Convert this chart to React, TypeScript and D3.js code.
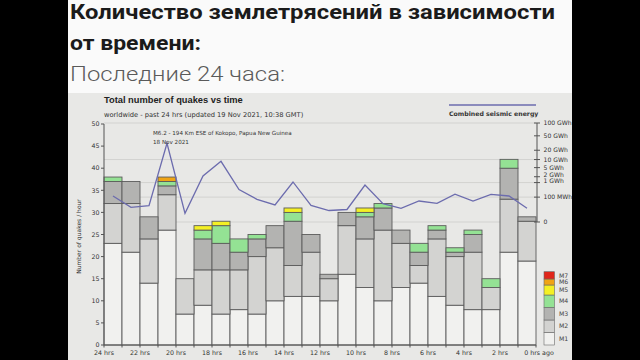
import React from "react";
import * as d3 from "d3";

// quakes per hour, stacked by magnitude class (oldest hour first: 24 hrs -> 0 hrs ago)
const m1 = [23, 21, 14, 26, 7, 9, 7, 8, 7, 10, 11, 11, 10, 16, 13, 10, 13, 14, 11, 9, 8, 8, 21, 19];
const m2 = [9, 11, 10, 8, 8, 8, 10, 9, 13, 12, 7, 10, 5, 11, 11, 16, 10, 4, 13, 11, 13, 5, 12, 9];
const m3 = [5, 5, 5, 2, 0, 7, 6, 4, 4, 5, 10, 4, 1, 3, 5, 5, 3, 3, 2, 1, 4, 0, 7, 1];
const m4 = [1, 0, 0, 1, 0, 2, 4, 3, 1, 0, 2, 0, 0, 0, 1, 1, 0, 2, 1, 1, 1, 2, 2, 0];
const m5 = [0, 0, 0, 0, 0, 1, 1, 0, 0, 0, 1, 0, 0, 0, 1, 0, 0, 0, 0, 0, 0, 0, 0, 0];
const m6 = [0, 0, 0, 1, 0, 0, 0, 0, 0, 0, 0, 0, 0, 0, 0, 0, 0, 0, 0, 0, 0, 0, 0, 0];
const m7 = [0, 0, 0, 0, 0, 0, 0, 0, 0, 0, 0, 0, 0, 0, 0, 0, 0, 0, 0, 0, 0, 0, 0, 0];

// combined seismic energy per hour, GWh
const energy = [
  0.125, 0.0072, 0.012, 31.8, 0.0005, 2.17, 8.66, 0.38, 0.063, 0.015, 1.08, 0.013,
  0.0021, 0.0032, 0.73, 0.022, 0.0051, 0.043, 0.024, 0.175, 0.043, 0.17, 0.125, 0.0051,
];

const classes = ["M1", "M2", "M3", "M4", "M5", "M6", "M7"];
const classColors = ["#f1f1ef", "#d3d3d1", "#b3b3b1", "#94e294", "#f4f024", "#f0a414", "#e0261a"];
const xTickLabels = ["24 hrs", "22 hrs", "20 hrs", "18 hrs", "16 hrs", "14 hrs", "12 hrs", "10 hrs", "8 hrs", "6 hrs", "4 hrs", "2 hrs", "0 hrs ago"];
const yTicks = [0, 5, 10, 15, 20, 25, 30, 35, 40, 45, 50];
const energyTicks = [
  { v: 100, label: "100 GWh" },
  { v: 50, label: "50 GWh" },
  { v: 20, label: "20 GWh" },
  { v: 10, label: "10 GWh" },
  { v: 5, label: "5 GWh" },
  { v: 2, label: "2 GWh", dy: -2 },
  { v: 1, label: "1 GWh", dy: -1.5 },
  { v: 0.1, label: "100 MWh" },
  { v: 0, label: "0" },
];
const energyGrid = [0, 0.1, 1, 10, 100];

const font = "'DejaVu Sans', Verdana, sans-serif";

const App: React.FC = () => {
  const x = d3.scaleLinear().domain([24, 0]).range([104, 536]);
  const y = d3.scaleLinear().domain([0, 50]).range([345, 124]);
  const ye = d3.scalePow().exponent(0.2).domain([0, 100]).range([222, 123]);

  const series = [m1, m2, m3, m4, m5, m6, m7];
  const rows = m1.map((_, i) => {
    const r: any = { i };
    classes.forEach((c, k) => (r[c] = series[k][i]));
    return r;
  });
  const stacked = d3.stack<any>().keys(classes)(rows);

  const line = d3
    .line<number>()
    .x((_, i) => x(23.5 - i))
    .y((d) => ye(d));

  const legendH = [12.7, 12.3, 12.7, 12.3, 10, 6, 7.3];
  let acc = 345;
  const legend = legendH.map((h, k) => {
    acc -= h;
    return { k, y0: acc, h };
  });

  return (
    <svg
      width={640}
      height={360}
      style={{ position: "absolute", left: 0, top: 0, display: "block" }}
    >
      <rect x={0} y={0} width={640} height={360} fill="#000" />
      <rect x={68} y={0} width={504} height={93} fill="#fafafa" />
      <rect x={68} y={93} width={504} height={267} fill="#e8e8e6" />

      {/* page heading (screenshot is stretched a little horizontally) */}
      <g fontFamily="Roboto, sans-serif" fontSize={21}>
        <text x={70} y={19} fontWeight="bold" fill="#1b1b1b" textLength={485} lengthAdjust="spacingAndGlyphs">
          Количество землетрясений в зависимости
        </text>
        <text x={70} y={50} fontWeight="bold" fill="#1b1b1b" textLength={131} lengthAdjust="spacingAndGlyphs">
          от времени:
        </text>
        <text x={70} y={81} fontWeight={300} fill="#5a5a5a" textLength={215} lengthAdjust="spacingAndGlyphs">
          Последние 24 часа:
        </text>
      </g>

      <text x={104} y={103} fontFamily="'Liberation Sans', Arial, sans-serif" fontSize={9.3} fontWeight="bold" fill="#222">
        Total number of quakes vs time
      </text>
      <text x={104} y={116.5} fontFamily={font} fontSize={6.7} fill="#333">
        worldwide - past 24 hrs (updated 19 Nov 2021, 10:38 GMT)
      </text>

      {/* grid tied to the energy axis */}
      {energyGrid.map((v) => (
        <line key={v} x1={104} x2={536} y1={ye(v)} y2={ye(v)} stroke="#d2d2d0" strokeWidth={1} />
      ))}

      {/* stacked bars */}
      {stacked.map((s, k) => (
        <g key={k} fill={classColors[k]} stroke="#5c5c5c" strokeWidth={0.9}>
          {s.map((d, i) =>
            d[1] - d[0] > 0 ? (
              <rect
                key={i}
                x={x(24 - i)}
                width={x(23 - i) - x(24 - i)}
                y={y(d[1])}
                height={y(d[0]) - y(d[1])}
              />
            ) : null
          )}
        </g>
      ))}

      {/* energy line */}
      <path d={line(energy) || ""} fill="none" stroke="#6c6cae" strokeWidth={1.3} />

      {/* left axis */}
      <g fontFamily={font} fontSize={6.3} fill="#333">
        <line x1={104} x2={104} y1={y(50)} y2={y(0)} stroke="#555" />
        {yTicks.map((t) => (
          <g key={t}>
            <line x1={101} x2={104} y1={y(t)} y2={y(t)} stroke="#555" />
            <text x={99.5} y={y(t)} dy="0.35em" textAnchor="end">
              {t}
            </text>
          </g>
        ))}
        <text
          transform={`translate(81,${y(25) + 2}) rotate(-90)`}
          textAnchor="middle"
          fontSize={6}
        >
          Number of quakes / hour
        </text>
      </g>

      {/* bottom axis */}
      <g fontFamily={font} fontSize={6.3} fill="#333">
        <line x1={104} x2={536} y1={345} y2={345} stroke="#555" />
        {d3.range(0, 25).map((h) => (
          <line key={h} x1={x(h)} x2={x(h)} y1={345} y2={347.5} stroke="#555" />
        ))}
        {xTickLabels.map((l, k) => (
          <text key={l} x={x(24 - k * 2) + (k === 12 ? 3 : 0)} y={354.5} textAnchor="middle">
            {l}
          </text>
        ))}
      </g>

      {/* right axis: combined seismic energy */}
      <g fontFamily={font} fontSize={6.1} fill="#333">
        <line x1={537} x2={537} y1={ye(100)} y2={ye(0)} stroke="#555" />
        {energyTicks.map((t) => (
          <g key={t.label}>
            <line x1={534} x2={540} y1={ye(t.v)} y2={ye(t.v)} stroke="#555" />
            <text x={543.5} y={ye(t.v) + (t.dy || 0)} dy="0.35em">
              {t.label}
            </text>
          </g>
        ))}
        <line x1={449} x2={536} y1={105} y2={105} stroke="#6c6cae" strokeWidth={1.3} />
        <text x={449} y={115.5} fontWeight="bold" fontSize={6.2}>
          Combined seismic energy
        </text>
      </g>

      {/* largest quake note */}
      <g fontFamily={font} fontSize={5.6} fill="#333">
        <text x={153} y={134.5}>M6.2 - 194 Km ESE of Kokopo, Papua New Guinea</text>
        <text x={153} y={143.5}>18 Nov 2021</text>
      </g>

      {/* magnitude legend */}
      <g fontFamily={font} fontSize={6.2} fill="#444">
        {legend.map((l) => (
          <g key={l.k}>
            <rect x={544} y={l.y0} width={10.5} height={l.h} fill={classColors[l.k]} stroke="#6a6a6a" strokeWidth={0.6} />
            <text x={559} y={l.y0 + l.h / 2} dy="0.35em">
              {classes[l.k]}
            </text>
          </g>
        ))}
      </g>
    </svg>
  );
};

export default App;
